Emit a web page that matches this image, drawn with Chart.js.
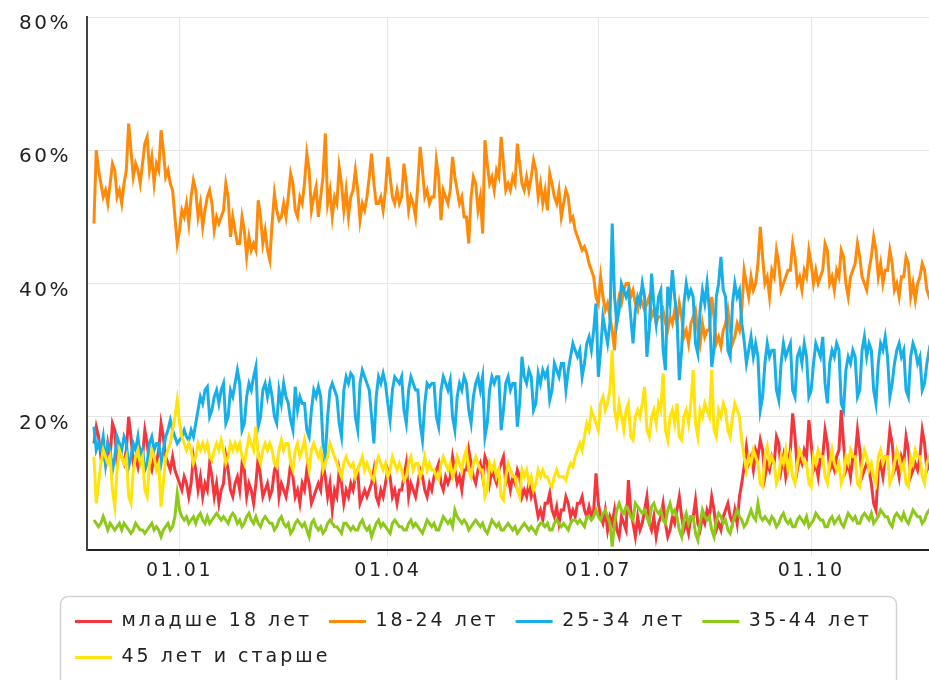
<!DOCTYPE html>
<html>
<head>
<meta charset="utf-8">
<script src="https://cdn.jsdelivr.net/npm/chart.js@4"></script>
<style>
  html, body { margin: 0; padding: 0; background: #fff; overflow: hidden; }
</style>
</head>
<body>
<canvas id="chart" width="960" height="700"></canvas>
<script>
// days counted from 1 January, one value per day starting at firstDay
var firstDay = -37;
var tickDays = [0, 90, 181, 273];
var tickLabels = ['01.01', '01.04', '01.07', '01.10'];
var seriesNames = ['младше 18 лет', '18-24 лет', '25-34 лет', '35-44 лет', '45 лет и старше'];

var ageUnder18 = [
  16, 18.5, 17, 14, 15, 13, 16,  14, 19, 18, 13, 15, 14, 13,  15, 20, 17, 13, 14, 12.5, 15,
  14, 18, 16, 13, 12, 14, 13,  15, 19, 17, 14, 13, 12, 14,  12, 11, 10, 9, 11, 10, 8,
  10, 14, 12, 9, 11, 8, 10,  9, 13, 11, 8, 10, 7, 9,  10, 14, 12, 9, 8, 10, 11,
  9, 13, 12, 8, 10, 9, 7,  10, 14, 11, 8, 9, 10, 8,  9, 12, 13, 8, 10, 9, 8,
  10, 13, 11, 8, 9, 7, 10,  9, 12, 10, 7, 8, 9, 10,  9, 13, 11, 8, 10, 6, 9,
  8, 12, 10, 7, 9, 8, 10,  9, 11, 12, 7, 8, 9, 8,  9, 10, 12, 8, 7, 9, 8,
  10, 12, 11, 8, 9, 7, 9,  9, 11, 13, 8, 10, 9, 8,  10, 12, 11, 9, 8, 10, 9,
  11, 12, 13, 10, 9, 11, 10,  11, 14, 12, 10, 11, 9, 12,  12, 15, 13, 11, 10, 12, 13,
  11, 14, 13, 10, 12, 11, 10,  12, 13, 14, 10, 11, 9, 11,  10, 12, 11, 8, 9, 8, 10,
  8, 9, 7, 5, 6, 4.5, 7,  7, 8.5, 6, 5, 6.5, 4, 6,  6, 8, 7, 5, 6, 5, 7,
  7, 8, 6, 5, 6.5, 5, 6,  11.5, 7, 5, 4, 6, 3, 5,  4, 6, 3, 2, 5, 4, 3,
  10.5, 6, 4, 2, 5, 3, 4,  6, 8, 4, 3, 5, 2, 4,  5, 7, 4, 2, 3, 5, 4,
  6, 8, 5, 3, 4, 2.5, 5,  5, 7.5, 4, 3, 5, 4, 6,  5, 8, 6, 3, 4, 3, 5,
  6, 7, 5, 4, 6, 4, 8,  10, 12.5, 15.5, 13, 14, 12, 15,  14, 16.5, 15, 11, 13, 12, 14,
  13, 17, 16, 12, 14, 11, 13,  15, 20.5, 17, 12, 14, 13, 15,  14, 19.5, 16, 12, 13, 11, 14,
  14, 18, 16, 12, 13, 12, 14,  15, 21, 16, 12, 13, 11, 14,  14, 18, 15, 11, 12, 13, 12,
  10, 7, 6, 12, 13, 11, 14,  14, 18, 16, 12, 13, 11, 14,  13, 17, 15, 11, 12, 13, 12,
  14, 18, 16, 12, 13, 11, 13,  14, 17, 15, 12, 13, 12, 14
];
var age18to24 = [
  49, 60, 57, 55, 53, 54, 52,  55, 58, 57, 53, 54, 52, 55,  57, 64, 60, 56, 58, 57, 55,
  58, 61, 62, 57, 59, 55, 58,  57, 63, 60, 56, 57, 55, 54,  50, 46, 48, 51, 50, 52, 49,
  53, 55.5, 54, 50, 52, 48.5, 51,  53, 54, 52, 48, 50, 49, 50,  51, 55, 53, 47, 50, 48, 46,
  46, 50, 48, 44, 47, 45, 46,  45, 52.5, 50, 46, 48, 45, 43.5,  49, 53.5, 51, 49.5, 50, 52, 50,
  53, 56.5, 55, 51, 50, 53, 52,  55, 59.5, 57, 51, 53, 54.5, 50,  53, 56, 62.5, 52, 54, 50, 53,
  52, 57.5, 55, 51, 54, 50, 53,  54, 57, 54, 49.5, 52, 51, 53,  56, 59.5, 55, 52, 52, 53, 51,
  54, 59, 56, 53, 52, 54, 52,  53, 58, 55, 51, 53, 52, 50,  55, 60.5, 57, 53, 54, 52, 53,
  53, 58.5, 56, 49.5, 54, 53, 52,  54, 59, 56, 54, 52, 53, 50,  50, 46, 53, 56, 55, 51, 53,
  47.5, 61.5, 58, 55, 56, 54, 57,  56, 62, 58, 54, 55, 54, 56,  55, 61, 58, 55, 54, 56, 54,
  56, 58.5, 57, 53, 55, 52, 54,  51, 56.5, 55, 53, 52, 54, 50,  52, 54, 53, 49.5, 50, 48, 47,
  46, 45, 45.5, 44.5, 43, 42, 41,  38, 37, 41, 38, 36, 37, 35,  33, 30, 36, 38, 37, 39, 40,
  40, 38, 39, 37, 36, 38, 37,  36, 37, 38, 35, 36, 34, 35,  35, 36, 34, 33, 35, 34, 36,
  34, 37, 35, 32, 33, 31, 34,  35, 36, 33, 31, 34, 32, 33,  33, 38, 35, 31, 32, 30.5, 33,
  34, 36, 33, 31, 32, 34, 33,  36, 42, 40, 38, 41, 39, 40,  43, 48.5, 44, 40, 41, 38, 42,
  41, 45, 43, 39, 40, 41, 42,  42, 46, 44, 40, 41, 39, 42,  41, 45, 43, 40, 42, 40, 41,
  42, 46, 45, 40, 41, 39, 42,  41, 45, 44, 40, 38, 41, 42,  43, 46, 44, 41, 40, 39, 42,
  44, 47, 45, 41, 43, 40, 42,  42, 45, 43, 39, 40, 38, 41,  41, 44, 43, 38, 40, 37.5, 40,
  41, 43, 42, 39, 38, 40, 39,  40, 42, 41, 38, 39, 40, 39
];
var age25to34 = [
  18.5, 15, 16, 15, 17, 13, 16,  15, 12, 14, 17, 16, 15, 17,  16, 12.5, 14, 16, 15, 17, 14,
  15, 12, 13, 16, 17, 15, 16,  16, 13, 15, 17, 18, 19.5, 18,  17, 16, 16.5, 17, 18, 17, 16.5,
  18, 17, 19, 21, 23, 22, 24,  24.5, 20, 21, 23, 24, 22, 24,  25, 19, 20, 24, 23, 25, 27,
  25, 18, 19, 23, 25, 24, 26,  27.5, 18.5, 20, 24, 25, 23, 25,  23, 20, 19, 24, 22, 25, 23,
  22, 19.5, 18, 24.5, 21, 23, 22,  22, 18, 17, 21, 24, 23, 24.5,  23, 16, 14, 20, 24, 25, 24,
  23, 19, 17, 24, 26, 25, 26.5,  26, 20, 18, 25, 27, 26, 25,  24, 20, 16, 23, 26, 25, 26.5,
  25, 22, 19.5, 24, 26, 25.5, 25,  26, 21, 19, 24, 26, 25, 24,  24, 19, 16.5, 22, 25, 24.5, 25,
  25, 20, 18.5, 24, 26, 25, 24,  25.5, 20, 18, 23, 25, 24, 26,  25, 21, 19, 23, 25, 26, 24,
  26, 17, 19, 24, 26, 25, 26,  26, 18, 21, 25, 26, 24, 25,  25, 18.5, 22, 29, 26, 25, 27,
  26, 21, 22, 26.5, 25, 27, 26,  27, 22.5, 24, 28, 27, 26, 28,  28, 24, 27, 29, 31, 30, 29,
  30, 26, 28, 31, 32, 30, 33,  37, 26, 30, 35, 33, 31, 34,  49, 38, 34, 36, 40, 39, 38,
  39, 35, 31, 36, 38, 37, 40,  38, 29, 33, 41.5, 37, 34, 38,  39, 30, 27, 39.5, 37, 42, 38,
  35, 25.5, 30, 37, 40, 38, 39,  38, 31, 29.5, 36, 39, 37, 40,  36, 27.5, 30, 38, 40, 44, 39,
  38, 30, 29, 37, 40, 38, 39,  34, 31.5, 28, 30, 32, 29, 31,  29, 21, 23, 28, 31, 29, 30,
  30, 24, 22.5, 28, 31, 29, 30,  31, 24, 23, 29, 30, 28, 31,  29, 23, 24, 28, 31, 30, 29,
  32, 25, 22, 28, 30, 29, 31,  30, 22, 21, 27, 29, 28, 30,  29, 23, 24, 30, 32, 29, 31,
  30, 24, 22, 28, 31, 30, 32,  29, 23, 25, 28, 30, 31, 29,  30, 24, 23, 29, 31, 30, 28,
  29, 24, 25, 28, 30, 29, 30,  28, 24, 23, 28, 30, 29, 28
];
var age35to44 = [
  4.5, 4, 3.5, 4, 5, 4, 3,  4, 3.5, 3, 3.5, 4, 3, 4,  3.5, 3, 2.5, 3, 4, 3.5, 3,
  3, 2.5, 3, 3.5, 4, 3, 3.5,  3, 2, 3, 3.5, 4, 3, 3.5,  5, 8.5, 6, 5, 4.5, 5, 4,
  4.5, 5, 4, 5, 5.5, 4.5, 4,  5, 4, 4.5, 5, 5.5, 5, 4.5,  5, 4.5, 4, 5, 5.5, 5, 4,
  4.5, 3.5, 4, 5, 5.5, 4.5, 4,  5, 4, 3.5, 4.5, 5, 4.5, 4,  4, 3, 3.5, 4.5, 5, 4, 3.5,
  4, 2.5, 3, 4, 4.5, 4, 3.5,  4, 3, 2, 4, 4.5, 3.5, 3,  3.5, 2.5, 3, 4, 4.5, 4, 3.5,
  3.5, 3, 2.5, 4, 4, 3.5, 3,  3.5, 3, 3, 4, 4.5, 3.5, 3,  3.5, 2, 3, 4, 4.5, 3.5, 4,
  3.5, 3, 2.5, 4, 4.5, 4, 3.5,  3.5, 3, 3, 4, 4.5, 3.5, 4,  3.5, 3, 2.5, 3.5, 4.5, 4, 3.5,
  4, 3, 3, 4, 5, 4.5, 4,  4.5, 3.5, 6, 5, 4.5, 4, 4.5,  4, 3, 3.5, 4, 4.5, 4, 3.5,
  4, 3, 2.5, 3.5, 4.5, 4, 3.5,  4, 3, 3, 3.5, 4, 3.5, 3,  3.5, 2.5, 3, 3.5, 4, 3.5, 3,
  3.5, 3, 2.5, 3.5, 4, 4, 3.5,  4, 3, 3, 4, 4.5, 4, 3.5,  4, 3.5, 3, 4, 4.5, 4.5, 4,
  4.5, 4, 3.5, 5, 5, 4.5, 5,  6, 5, 4.5, 5.5, 6, 5, 4,  0.5, 4, 6, 7, 6, 5.5, 6.5,
  6, 5, 4.5, 7, 6.5, 6, 5.5,  6, 5, 4, 6.5, 7, 6, 5.5,  6, 4.5, 4, 6, 7, 5.5, 6,
  5, 3, 2, 4.5, 5.5, 4, 5,  5, 2.5, 1.5, 4, 6, 5, 4.5,  5, 3, 2, 4.5, 5.5, 5, 4,
  4.5, 3, 2.5, 4, 5, 6, 5,  4.5, 3.5, 4, 5, 6, 5, 4.5,  7, 5, 4.5, 5, 4.5, 4, 5,
  4.5, 3.5, 4, 5, 5.5, 4.5, 4,  4.5, 3.5, 3.5, 4.5, 5, 4.5, 4,  5, 3.5, 4, 4.5, 5.5, 5, 4.5,
  4.5, 3.5, 3.5, 4.5, 5, 4, 4.5,  5, 4, 3.5, 4.5, 5.5, 5, 4.5,  5, 4, 4, 5, 5.5, 5, 4.5,
  5.5, 4, 4.5, 5, 6, 5.5, 5,  5, 4, 3.5, 5, 5.5, 5, 4.5,  5.5, 4.5, 4, 5, 6, 5.5, 5,
  5, 4, 4.5, 5.5, 6, 5, 5.5,  5.5, 4.5, 4, 5, 6, 5.5, 5
];
var age45plus = [
  14, 7, 10, 13, 15, 14, 13,  14, 9, 6.5, 12, 15, 14, 13,  14, 8, 7, 12, 14, 15, 13,
  14, 9, 8, 13, 15, 14, 12,  13, 6.5, 10, 14, 15, 16, 18,  20, 22.5, 19, 17, 16, 15, 16,
  15, 13, 14, 16, 15, 16, 15,  16, 14, 13.5, 15, 16, 15, 16.5,  15, 13, 14, 16, 15, 16, 15,
  16, 14, 13, 15, 17, 16, 15,  18.5, 14, 13, 15, 16, 15, 16,  15, 13, 12.5, 15, 16.5, 15, 16,
  16, 13, 12, 15, 16, 14, 15,  16.5, 14, 12, 15, 16, 15, 14,  15, 12, 13, 14, 16, 15, 14,
  13, 12, 11, 13, 14, 13, 12.5,  13, 11, 12, 13, 14, 12, 13,  12, 11, 10.5, 13, 14, 13, 12,
  13, 11, 12, 14, 13, 12, 13,  12, 10.5, 11, 13, 14, 12, 13,  13, 11, 12, 14, 12, 13, 12,
  12, 11, 10.5, 13, 14, 13, 12,  13, 11, 12, 14, 13, 12, 14,  15, 12, 11, 13, 14, 13, 12,
  12, 8, 9, 13, 12, 13, 11,  12, 8, 7.5, 11, 13, 12, 11,  11, 9, 8, 12, 11, 12, 10,
  11, 9, 10, 12, 11, 12, 11,  11, 10, 9.5, 11, 12, 11, 11,  11, 10.5, 12, 13, 12.5, 14, 15,
  16, 15, 17, 19, 18, 21, 20,  19, 18, 22, 23, 21, 22, 24,  30, 21, 19, 22, 20, 18, 21,
  22, 17, 16.5, 20, 21, 20, 22,  24.5, 18, 17, 20, 21, 19, 22,  21, 26.5, 18, 16.5, 20, 21, 19,
  22, 17, 16.5, 20, 21, 19, 22,  27, 19, 17, 21, 20, 22, 21,  20, 27, 18, 17, 21, 20, 22,
  21, 18, 17, 20, 22, 21, 20,  16.5, 14, 12, 14, 13, 15, 14,  13, 10, 9.5, 14, 15.5, 13, 14,
  13, 10, 11, 14, 13, 15, 12,  14, 11, 10, 13, 15, 14, 13,  13, 10, 9.5, 14, 13, 15, 14,
  14, 11, 10, 13, 15, 13, 12,  13, 10, 11, 14, 13, 15, 14,  14, 10, 9.5, 13, 15, 14, 12,
  13, 11, 10, 14, 15, 13, 14,  14, 10, 11, 13, 15, 14, 12,  13, 10, 9.5, 14, 13, 15, 14,
  14, 11, 10, 13, 14, 13, 12,  13, 10, 11, 13, 14, 13, 12
];

var seriesValues = [ageUnder18, age18to24, age25to34, age35to44, age45plus];
var seriesColors = ['#f5353b', '#ff8a0a', '#18aee8', '#8dc91a', '#ffe30a'];
var seriesOrder = [5, 4, 3, 2, 1];

function toPoints(values) {
  return values.map(function(v, i) { return { x: firstDay + i, y: v }; });
}

var datasets = [];
for (var i = 0; i < seriesNames.length; i++) {
  datasets.push({
    label: seriesNames[i],
    data: toPoints(seriesValues[i]),
    borderColor: seriesColors[i],
    backgroundColor: seriesColors[i],
    order: seriesOrder[i]
  });
}

var font = 'DejaVu Sans';
var textColor = '#222';

// wide lettering, legend moved into its framed box
var frame = {
  id: 'frame',
  beforeLayout: function(chart) { chart.ctx.letterSpacing = '2.5px'; },
  afterLayout: function(chart) {
    var lg = chart.legend;
    lg.left = 58;
    lg.top = 595;
    if (!lg._spaced) {
      var draw = lg.draw;
      lg.draw = function() {
        chart.ctx.letterSpacing = '3px';
        draw.apply(this, arguments);
        chart.ctx.letterSpacing = '2.5px';
      };
      lg._spaced = true;
    }
  },
  beforeDraw: function(chart) { chart.ctx.letterSpacing = '2.5px'; },
  afterDraw: function(chart) {
    var c = chart.ctx;
    c.save();
    c.strokeStyle = '#d2d2d2';
    c.lineWidth = 1.5;
    c.beginPath();
    c.roundRect(60.5, 596.5, 836, 130, 8);
    c.stroke();
    c.restore();
  }
};

new Chart(document.getElementById('chart'), {
  type: 'line',
  data: { datasets: datasets },
  options: {
    responsive: false,
    animation: false,
    layout: { padding: { top: 17, right: 10, left: 0, bottom: 0 } },
    elements: {
      point: { radius: 0 },
      line: { borderWidth: 3, tension: 0 }
    },
    scales: {
      x: {
        type: 'linear',
        min: -40,
        max: 333,
        afterBuildTicks: function(scale) {
          scale.ticks = tickDays.map(function(d) { return { value: d }; });
        },
        afterFit: function(scale) {
          scale.height = scale.chart.height - 550 - scale.chart.legend.height;
        },
        ticks: {
          autoSkip: false,
          maxRotation: 0,
          padding: 4,
          color: textColor,
          font: { family: font, size: 19 },
          callback: function(v, idx) { return tickLabels[idx]; }
        },
        grid: { color: '#e6e6e6', tickLength: 6, tickColor: '#e6e6e6' },
        border: { color: '#222', width: 2 }
      },
      y: {
        min: 0,
        max: 80,
        afterFit: function(scale) {
          scale.width = 87;
          scale.paddingTop = 0;
          scale.paddingBottom = 0;
        },
        ticks: {
          stepSize: 20,
          padding: 16,
          labelOffset: 7,
          color: textColor,
          font: { family: font, size: 20 },
          callback: function(v) { return v === 0 ? '' : v + '%'; }
        },
        grid: { color: '#e6e6e6', drawTicks: false },
        border: { color: '#444', width: 2 }
      }
    },
    plugins: {
      tooltip: { enabled: false },
      legend: {
        position: 'bottom',
        align: 'start',
        labels: {
          boxWidth: 37,
          boxHeight: 3,
          padding: 17,
          color: textColor,
          font: { family: font, size: 19 },
          sort: function(a, b) { return a.datasetIndex - b.datasetIndex; },
          generateLabels: function(chart) {
            var items = Chart.defaults.plugins.legend.labels.generateLabels(chart);
            items.forEach(function(it) {
              it.lineWidth = 0;
              it.fillStyle = it.strokeStyle;
            });
            return items;
          }
        }
      }
    }
  },
  plugins: [frame]
});
</script>
</body>
</html>
